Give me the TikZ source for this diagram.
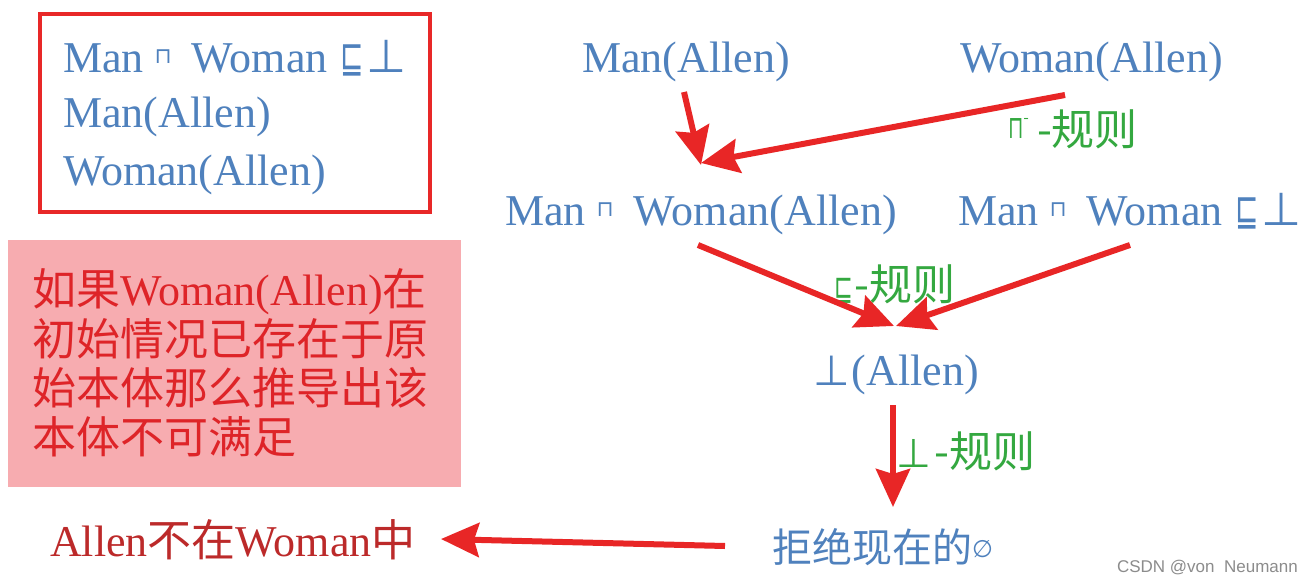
\documentclass[tikz,border=0pt]{standalone}
\usepackage{fontspec}
\setmainfont{Liberation Serif}
\newfontfamily\cjkf{Noto Sans CJK SC}
\newfontfamily\symf{DejaVu Sans}
\newfontfamily\wmf{Liberation Sans}
\usetikzlibrary{arrows.meta}
\definecolor{txtblue}{RGB}{79,129,189}
\definecolor{arrred}{RGB}{232,38,38}
\definecolor{boxred}{RGB}{232,40,40}
\definecolor{pinkfill}{RGB}{247,172,176}
\definecolor{notered}{RGB}{222,36,40}
\definecolor{darkred}{RGB}{188,42,42}
\definecolor{rulegreen}{RGB}{52,168,64}
\definecolor{wmgray}{RGB}{140,140,140}
\newcommand{\Zh}[1]{{\cjkf #1}}
\newcommand{\SymCap}{\raisebox{9pt}{\symf\fontsize{22}{22}\selectfont ⊓}}
\newcommand{\SymSub}{\scalebox{0.7}[1.1]{\symf\fontsize{40}{40}\selectfont ⊑}}
\newcommand{\SymBot}{{\symf\fontsize{46}{46}\selectfont ⊥}}
\newcommand{\SymEmpty}{\raisebox{5pt}{\symf\fontsize{24}{24}\selectfont ∅}}
\newcommand{\CapExpr}{Man\hspace{11pt}\SymCap\hspace{20pt}Woman}
\tikzset{
  lat/.style={inner sep=0pt, outer sep=0pt, font=\fontsize{44}{50}\selectfont, text=txtblue, anchor=base west},
  note/.style={inner sep=0pt, outer sep=0pt, font=\fontsize{44}{50}\selectfont, text=notered, anchor=base west},
  rulelbl/.style={inner sep=0pt, outer sep=0pt, font=\cjkf\fontsize{43}{48}\selectfont, text=rulegreen, anchor=base west},
  arr/.style={draw=arrred, line width=6pt, -{Stealth[length=38pt,width=34pt,inset=5pt]}},
}
\begin{document}
\begin{tikzpicture}[x=1pt,y=-1pt]
\useasboundingbox[fill=white] (0,0) rectangle (1308,583);
% axiom box
\draw[boxred, line width=4pt] (40,14) rectangle (430,212);
\node[lat] (k1) at (63,73) {\CapExpr\hspace{13pt}\SymSub\hspace{2pt}\SymBot};
\node[lat] (k2) at (63,128) {Man(Allen)};
\node[lat] (k3) at (63,185) {Woman(Allen)};
% note box
\fill[pinkfill] (8,240) rectangle (461,487);
\node[note] (n1) at (32,305) {\Zh{如果}Woman(Allen)\Zh{在}};
\node[note] (n2) at (32,355) {\Zh{初始情况已存在于原}};
\node[note] (n3) at (32,404) {\Zh{始本体那么推导出该}};
\node[note] (n4) at (32,453) {\Zh{本体不可满足}};
% derivation
\node[lat] (ma) at (582,73) {Man(Allen)};
\node[lat] (wa) at (960,73) {Woman(Allen)};
\node[lat] (mwa) at (505,225) {\CapExpr(Allen)};
\node[lat] (ax) at (958,225) {\CapExpr\hspace{13pt}\SymSub\hspace{2pt}\SymBot};
\node[lat] (ba) at (813,385) {{\symf\fontsize{42}{42}\selectfont ⊥}\hspace{2pt}(Allen)};
\node[lat, font=\cjkf\fontsize{40}{46}\selectfont] (rej) at (772,562) {拒绝现在的\SymEmpty};
\node[note, text=darkred] (res) at (50,556) {Allen\Zh{不在}Woman\Zh{中}};
% rule labels
\node[rulelbl] (r1) at (1008,146) {\raisebox{8pt}{\scalebox{0.9}[1.45]{\symf\fontsize{22}{22}\selectfont ⊓}}\raisebox{22pt}{\fontsize{16}{16}\selectfont -}\hspace{8pt}-规则};
\node[rulelbl] (r2) at (834,300) {\scalebox{0.7}[1.1]{\symf\fontsize{32}{32}\selectfont ⊑}\hspace{2pt}-规则};
\node[rulelbl] (r3) at (896,467) {{\symf\fontsize{40}{40}\selectfont ⊥}\hspace{4pt}-规则};
% connectors
\coordinate (a1s) at (684,92);  \coordinate (a1e) at (701,165);
\coordinate (a2s) at (1065,95); \coordinate (a2e) at (701,163);
\coordinate (a3s) at (698,245); \coordinate (a3e) at (894,326);
\coordinate (a4s) at (1130,245);\coordinate (a4e) at (896,326);
\coordinate (a5s) at (893,405); \coordinate (a5e) at (893,507);
\coordinate (a6s) at (725,546); \coordinate (a6e) at (441,539);
\draw[arr] (a1s) -- (a1e);
\draw[arr] (a2s) -- (a2e);
\draw[arr] (a3s) -- (a3e);
\draw[arr] (a4s) -- (a4e);
\draw[arr] (a5s) -- (a5e);
\draw[arr] (a6s) -- (a6e);
% watermark
\node[inner sep=0pt, anchor=base east, font=\wmf\fontsize{17}{17}\selectfont, text=wmgray] (wm) at (1298,572) {CSDN @von\ \ Neumann};
\end{tikzpicture}
\end{document}
